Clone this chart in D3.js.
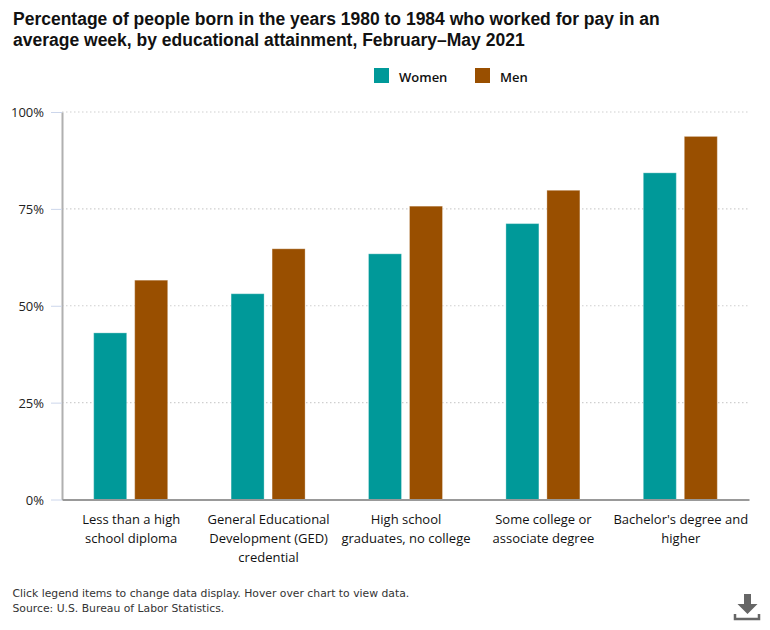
<!DOCTYPE html>
<html>
<head>
<meta charset="utf-8">
<script src="https://d3js.org/d3.v7.min.js"></script>
<style>
  html, body { margin: 0; padding: 0; background: #fff; }
  svg { display: block; }
  .tick-x { font-family: "Open Sans", sans-serif; font-size: 13px; fill: #111; }
  .tick-y { font-family: "Open Sans", sans-serif; font-size: 13px; fill: #222; }
</style>
</head>
<body>
<div id="chart"></div>
<script>
// data
var categories = [
  ["Less than a high", "school diploma"],
  ["General Educational", "Development (GED)", "credential"],
  ["High school", "graduates, no college"],
  ["Some college or", "associate degree"],
  ["Bachelor's degree and", "higher"]
];
var women = [43.0, 53.1, 63.4, 71.2, 84.3];
var men = [56.6, 64.7, 75.7, 79.8, 93.7];
var seriesNames = ["Women", "Men"];
var seriesColors = ["#009999", "#994f00"];
var yTicks = [0, 25, 50, 75, 100];
var titleLines = [
  "Percentage of people born in the years 1980 to 1984 who worked for pay in an",
  "average week, by educational attainment, February\u2013May 2021"
];
var footerLines = [
  "Click legend items to change data display. Hover over chart to view data.",
  "Source: U.S. Bureau of Labor Statistics."
];

var margin = {top: 112, right: 21, bottom: 130.5, left: 62},
    width = 770 - margin.left - margin.right,
    height = 630 - margin.top - margin.bottom;

var root = d3.select("#chart")
  .append("svg")
    .attr("width", 770)
    .attr("height", 630);

// title
root.selectAll(".title")
  .data(titleLines)
  .enter()
  .append("text")
    .attr("class", "title")
    .attr("x", 13)
    .attr("y", function(d, i) { return 25 + i * 21; })
    .style("font-family", "'Liberation Sans', Arial, sans-serif")
    .style("font-size", "17.5px")
    .style("font-weight", "bold")
    .style("fill", "#111")
    .text(function(d) { return d; });

// legend
var legendX = [374, 475];
var legend = root.selectAll(".legend")
  .data(seriesNames)
  .enter()
  .append("g")
    .attr("class", "legend")
    .attr("transform", function(d, i) { return "translate(" + legendX[i] + ",68)"; });
legend.append("rect")
  .attr("width", 15)
  .attr("height", 15)
  .style("fill", function(d, i) { return seriesColors[i]; });
legend.append("text")
  .attr("x", 25)
  .attr("y", 14)
  .style("font-family", "'Open Sans', sans-serif")
  .style("font-size", "13px")
  .style("font-weight", "600")
  .style("fill", "#111")
  .text(function(d) { return d; });

var svg = root.append("g")
  .attr("transform", "translate(" + margin.left + "," + margin.top + ")");

var x = d3.scaleBand()
  .domain(d3.range(categories.length))
  .range([0, width]);

var xInner = d3.scaleBand()
  .domain(seriesNames)
  .range([x.bandwidth() / 2 - 37, x.bandwidth() / 2 + 37])
  .paddingInner(8 / 41);

var y = d3.scaleLinear()
  .domain([0, 100])
  .range([height, 0]);

// dotted grid
svg.append("g")
  .selectAll("line")
  .data(yTicks.filter(function(d) { return d > 0; }))
  .enter()
  .append("line")
    .attr("x1", 0)
    .attr("x2", width)
    .attr("y1", function(d) { return y(d); })
    .attr("y2", function(d) { return y(d); })
    .attr("stroke", "#cfcfcf")
    .attr("stroke-width", 1.2)
    .attr("stroke-dasharray", "1.5,2.5");

// y axis
var yAxis = svg.append("g")
  .call(d3.axisLeft(y).tickValues(yTicks).tickSize(11).tickSizeOuter(0).tickPadding(7).tickFormat(function(d) { return d + "%"; }));
yAxis.select(".domain").attr("stroke", "#b0b0b0").attr("stroke-width", 2);
yAxis.selectAll(".tick line").attr("stroke", "#ccd6eb");
yAxis.selectAll("text")
  .attr("class", "tick-y")
  .attr("dy", "0.35em")
  .style("font-family", null)
  .style("font-size", null);
yAxis.attr("font-family", null).attr("font-size", null);

// bars
var groups = svg.selectAll(".cat")
  .data(categories)
  .enter()
  .append("g")
    .attr("class", "cat")
    .attr("transform", function(d, i) { return "translate(" + x(i) + ",0)"; });

[women, men].forEach(function(values, s) {
  groups.append("rect")
    .attr("x", xInner(seriesNames[s]))
    .attr("width", xInner.bandwidth())
    .attr("y", function(d, i) { return y(values[i]); })
    .attr("height", function(d, i) { return height - y(values[i]); })
    .style("fill", seriesColors[s])
    .attr("stroke", "#fff")
    .attr("stroke-opacity", 0.3)
    .attr("stroke-width", 1);
});

// x axis
var xAxis = svg.append("g")
  .attr("transform", "translate(0," + height + ")")
  .call(d3.axisBottom(x).tickSize(0).tickFormat(""));
xAxis.select(".domain").attr("stroke", "#999").attr("stroke-width", 2);

xAxis.selectAll(".tick").each(function(d) {
  var label = d3.select(this).select("text")
    .attr("class", "tick-x")
    .attr("y", 0)
    .attr("dy", null)
    .text(null);
  label.selectAll("tspan")
    .data(categories[d])
    .enter()
    .append("tspan")
      .attr("x", 0.5)
      .attr("y", function(t, i) { return 24.5 + i * 19; })
      .text(function(t) { return t; });
});
xAxis.attr("font-family", null).attr("font-size", null);

// footer
root.selectAll(".footer")
  .data(footerLines)
  .enter()
  .append("text")
    .attr("class", "footer")
    .attr("x", 12.5)
    .attr("y", function(d, i) { return 597 + i * 15; })
    .style("font-family", "'DejaVu Sans', Verdana, sans-serif")
    .style("font-size", "10.8px")
    .style("fill", "#333")
    .text(function(d) { return d; });

// download icon
var icon = root.append("g").attr("transform", "translate(734,594)");
icon.append("path")
  .attr("d", "M10 0h7v10h6.5l-10 10l-10-10h6.5z")
  .style("fill", "#666");
icon.append("path")
  .attr("d", "M1 20v5h24v-5")
  .style("fill", "none")
  .style("stroke", "#666")
  .style("stroke-width", 2.5);
</script>
</body>
</html>
